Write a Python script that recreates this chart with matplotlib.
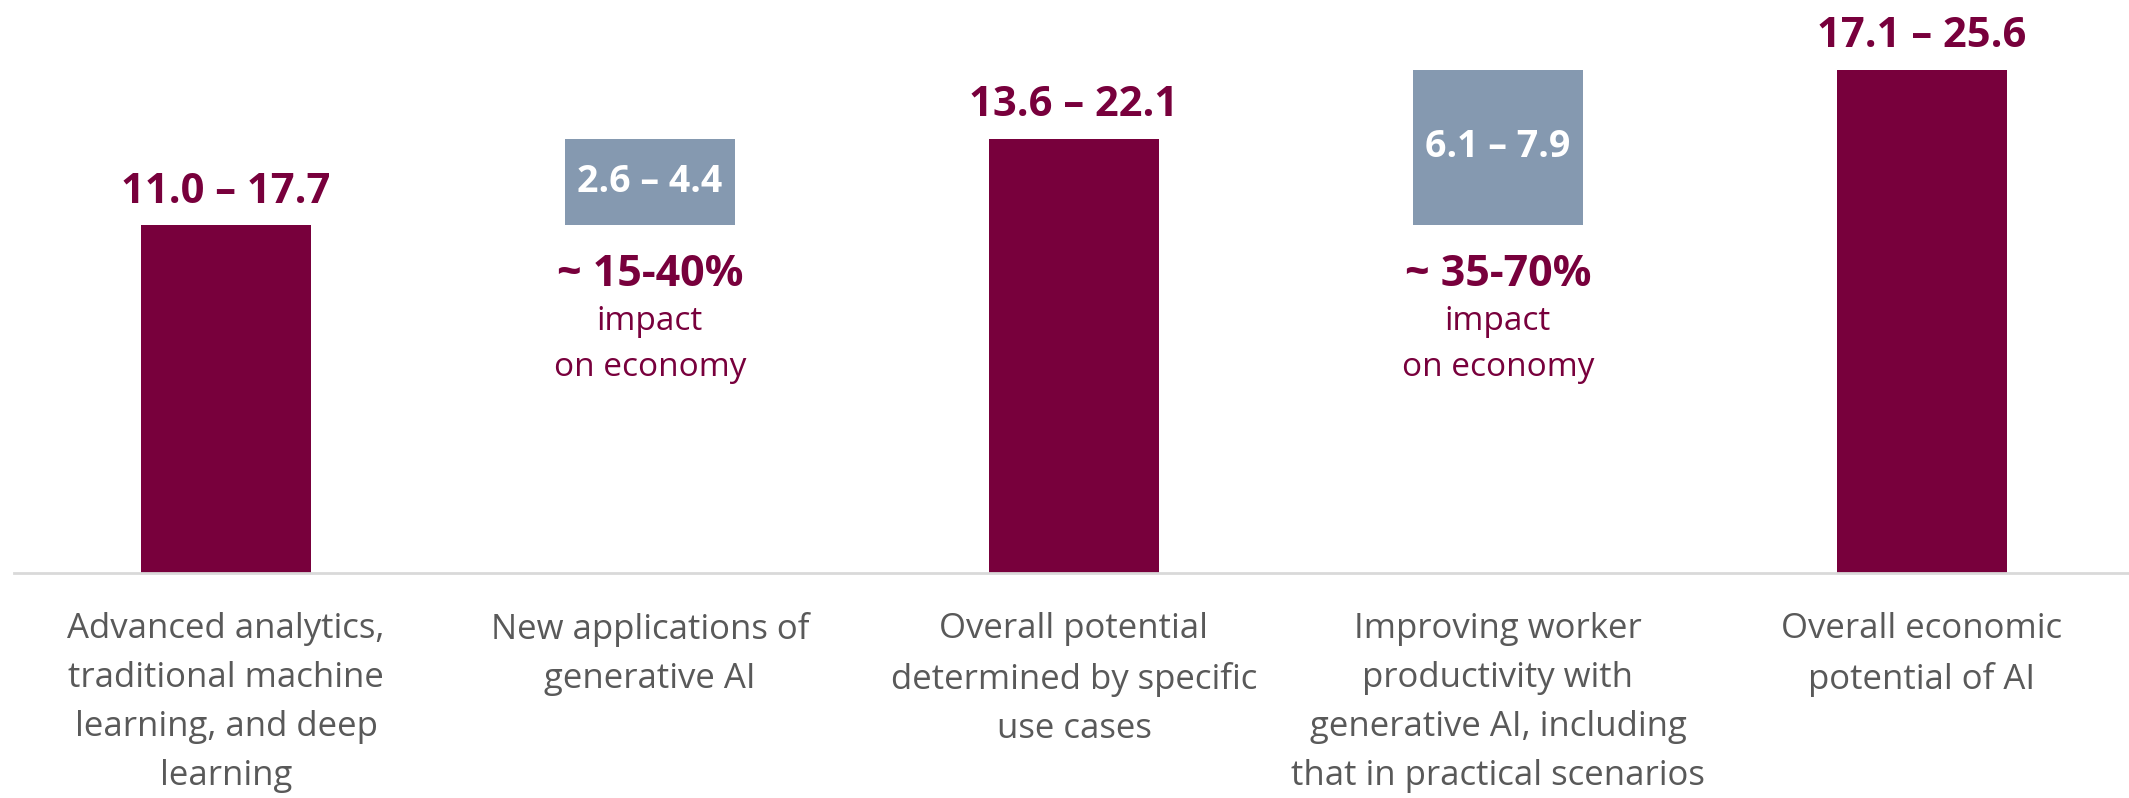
import matplotlib
matplotlib.use("Agg")
from matplotlib import pyplot as plt

plt.rcParams['font.family'] = ['Open Sans', 'DejaVu Sans']

categories = ["Advanced analytics,\ntraditional machine\nlearning, and deep\nlearning",
              "New applications of\ngenerative AI",
              "Overall potential\ndetermined by specific\nuse cases",
              "Improving worker\nproductivity with\ngenerative AI, including\nthat in practical scenarios",
              "Overall economic\npotential of AI"]
low = [11.0, 2.6, 13.6, 6.1, 17.1]
high = [17.7, 4.4, 22.1, 7.9, 25.6]
is_step = [False, True, False, True, False]
step_base = [0, 17.7, 0, 17.7, 0]
share_text = ["", "~ 15-40%", "", "~ 35-70%", ""]

maroon = '#78003C'
steel = '#8599B0'
grey_txt = '#595959'

fig = plt.figure(figsize=(21.29, 7.98), dpi=100)
ax = fig.add_axes([14 / 2129, 225 / 798, 2115 / 2129, 573 / 798])

x = range(len(categories))
for i in x:
    if is_step[i]:
        ax.bar(i, high[i], bottom=step_base[i], width=0.4, color=steel)
        ax.text(i, step_base[i] + high[i] / 2, f"{low[i]:.1f} – {high[i]:.1f}",
                ha='center', va='center', color='white', fontsize=27, fontweight='bold')
        ax.text(i, 15.2, share_text[i], ha='center', va='center',
                color=maroon, fontsize=31, fontweight='bold')
        ax.text(i, 13.65, "impact\non economy", ha='center', va='top',
                color=maroon, fontsize=24, linespacing=1.55)
    else:
        ax.bar(i, high[i], width=0.4, color=maroon)
        ax.annotate(f"{low[i]:.1f} – {high[i]:.1f}", (i, high[i]),
                    xytext=(0, 16), textcoords='offset points',
                    ha='center', va='baseline', color=maroon,
                    fontsize=30, fontweight='bold')

ax.set_xlim(-0.5, -0.5 + 2115 / 424)
ax.set_ylim(0, 573 / 19.66)
ax.set_xticks(list(x))
ax.set_xticklabels(categories, fontsize=25, color=grey_txt, linespacing=1.58)
ax.tick_params(axis='x', length=0, pad=28)
ax.set_yticks([])
for s in ['top', 'left', 'right']:
    ax.spines[s].set_visible(False)
ax.spines['bottom'].set_color('#D9D9D9')
ax.spines['bottom'].set_linewidth(2)

fig.savefig('out.png', dpi=100)
